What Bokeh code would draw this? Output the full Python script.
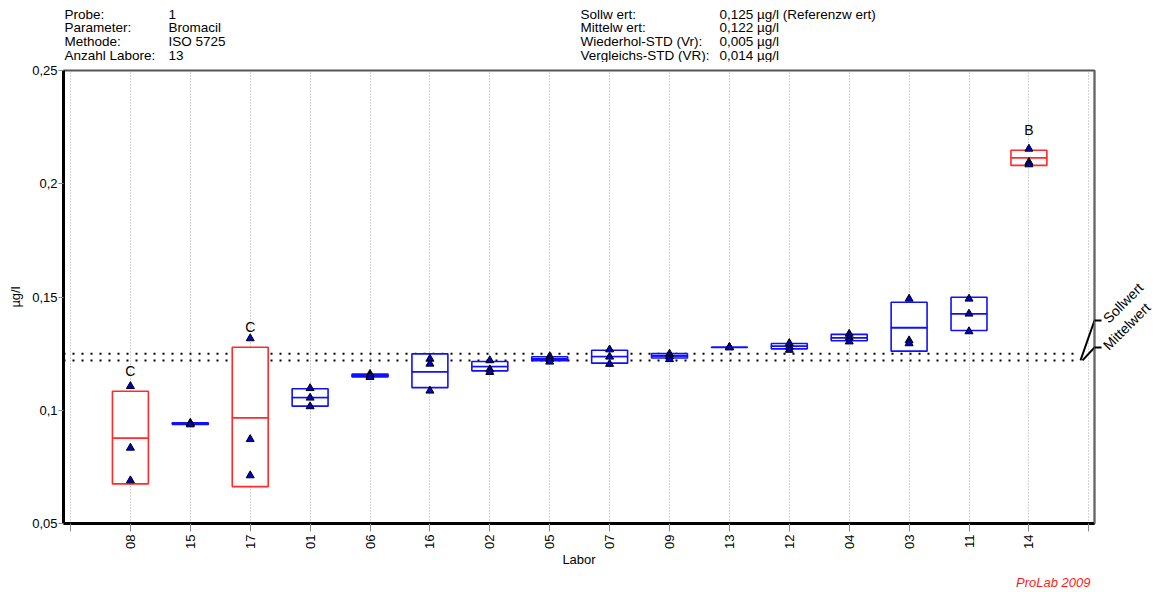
import math
from bokeh.plotting import figure
from bokeh.layouts import column
from bokeh.models import (Range1d, FixedTicker, CustomJSTickFormatter, LinearAxis,
                          ColumnDataSource)
from bokeh.embed import file_html
from bokeh.resources import INLINE
from bokeh.core.properties import value

# ---------------- data ----------------
labs = ["08", "15", "17", "01", "06", "16", "02", "05", "07", "09", "13", "12", "04", "03", "11", "14"]
meas_1 = [0.1106, 0.0944, 0.1317, 0.1097, 0.1160, 0.1227, 0.1220, 0.1238, 0.1268, 0.1249, 0.1278, 0.1296, 0.1337, 0.1492, 0.1492, 0.2154]
meas_2 = [0.0834, 0.0941, 0.0872, 0.1055, 0.1152, 0.1205, 0.1180, 0.1226, 0.1236, 0.1237, 0.1278, 0.1280, 0.1320, 0.1308, 0.1426, 0.2095]
meas_3 = [0.0690, 0.0937, 0.0712, 0.1017, 0.1146, 0.1086, 0.1168, 0.1214, 0.1204, 0.1225, 0.1277, 0.1266, 0.1303, 0.1295, 0.1348, 0.2085]
box_low = [0.0675, 0.0937, 0.0663, 0.1018, 0.1147, 0.1100, 0.1174, 0.1219, 0.1208, 0.1231, 0.1277, 0.1271, 0.1307, 0.1261, 0.1352, 0.2081]
box_mid = [0.0877, 0.0941, 0.0967, 0.1056, 0.1153, 0.1170, 0.1193, 0.1227, 0.1237, 0.1240, 0.1278, 0.1283, 0.1320, 0.1365, 0.1426, 0.2115]
box_high = [0.1084, 0.0945, 0.1278, 0.1095, 0.1160, 0.1249, 0.1215, 0.1236, 0.1265, 0.1250, 0.1278, 0.1295, 0.1335, 0.1477, 0.1499, 0.2148]
rating = ["C", "", "C", "", "", "", "", "", "", "", "", "", "", "", "", "B"]
sollwert = 0.125
mittelwert = 0.122
y_ticks = [0.05, 0.10, 0.15, 0.20, 0.25]
ref_names = ["Sollwert", "Mittelwert"]

header_left_keys = ["Probe:", "Parameter:", "Methode:", "Anzahl Labore:"]
header_left_vals = ["1", "Bromacil", "ISO 5725", "13"]
header_right_keys = ["Sollw ert:", "Mittelw ert:", "Wiederhol-STD (Vr):", "Vergleichs-STD (VR):"]
header_right_vals = ["0,125 µg/l (Referenzw ert)", "0,122 µg/l", "0,005 µg/l", "0,014 µg/l"]
footer_text = "ProLab 2009"

# ---------------- layout helpers ----------------
FONT = "Liberation Sans"
FS = "13px"
FS_HDR = "13.5px"
W, H = 1164, 592
HEADER_H, FOOTER_H = 62, 20
X0, X1 = -0.117, 17.095
Y0, Y1 = 0.05, 0.25
FL, FR, FT, FB = 63, 1094, 70, 523   # frame edges in page pixels


def dx(px):
    return X0 + (px - FL) / (FR - FL) * (X1 - X0)


def dy(py):
    return Y0 + (FB - py) / (FB - FT) * (Y1 - Y0)


xs = list(range(1, len(labs) + 1))
colors = ["#ff2a2a" if r else "#1010ff" for r in rating]
src = ColumnDataSource(dict(x=xs, lo=box_low, mid=box_mid, hi=box_high, col=colors, rating=rating))


def blank_fig(h):
    # frame aligned with the main plot's frame; x in page pixels, y in pixels from top
    f = figure(width=W, height=h, x_range=Range1d(FL, FR), y_range=Range1d(h, 0),
               x_axis_location=None, y_axis_location=None, output_backend="svg",
               toolbar_location=None, min_border_left=FL, min_border_right=W - FR,
               min_border_top=0, min_border_bottom=0)
    f.outline_line_color = None
    f.grid.visible = False
    f.background_fill_color = "white"
    f.border_fill_color = "white"
    return f


# ---------------- header ----------------
hdr = blank_fig(HEADER_H)
for i in range(4):
    yy = 13.5 + i * 13.8
    hdr.text(x=[64, 168, 580, 719], y=[yy] * 4,
             text=[header_left_keys[i], header_left_vals[i], header_right_keys[i], header_right_vals[i]],
             text_align="left", text_baseline="middle", text_font=value(FONT),
             text_font_size=FS_HDR, text_color="black")

# ---------------- main plot ----------------
main_h = H - HEADER_H - FOOTER_H
top_border = FT - HEADER_H
p = figure(width=W, height=main_h, x_range=Range1d(X0, X1), y_range=Range1d(Y0, Y1),
           output_backend="svg", toolbar_location=None,
           min_border_left=FL, min_border_right=W - FR, min_border_top=top_border,
           min_border_bottom=main_h - top_border - (FB - FT))
p.background_fill_color = "white"
p.border_fill_color = "white"
p.outline_line_color = "#555555"
p.outline_line_width = 2

xticker = FixedTicker(ticks=list(range(0, len(labs) + 2)))
p.xaxis.ticker = xticker
p.xaxis.formatter = CustomJSTickFormatter(args=dict(labels=labs), code="""
const i = Math.round(tick) - 1;
return (i >= 0 && i < labels.length) ? labels[i] : '';
""")
p.xaxis.major_label_orientation = math.pi / 2
p.xaxis.axis_label = "Labor"
p.xaxis.axis_line_width = 3
p.xaxis.axis_line_color = "black"
p.xaxis.major_tick_line_color = "#888888"
p.xaxis.major_tick_out = 8
p.xaxis.major_tick_in = 0
p.xaxis.minor_tick_line_color = None
p.xaxis.major_label_standoff = 3
p.xaxis.axis_label_standoff = 0

p.yaxis.ticker = FixedTicker(ticks=y_ticks)
p.yaxis.formatter = CustomJSTickFormatter(code="""
return (Math.round(tick * 100) / 100).toString().replace('.', ',');
""")
p.yaxis.axis_label = "µg/l"
p.yaxis.axis_line_width = 3
p.yaxis.axis_line_color = "black"
p.yaxis.major_tick_line_color = "#888888"
p.yaxis.major_tick_out = 5
p.yaxis.major_tick_in = 0
p.yaxis.minor_tick_line_color = None
p.yaxis.major_label_standoff = 1
p.yaxis.axis_label_standoff = 6

# right axis carrying the Sollwert / Mittelwert markers
rax = LinearAxis(ticker=FixedTicker(ticks=[dy(320), dy(347)]),
                 formatter=CustomJSTickFormatter(args=dict(t=[dy(320), dy(347)], names=ref_names), code="""
let b = 0;
for (let i = 0; i < t.length; i++) { if (Math.abs(t[i] - tick) < Math.abs(t[b] - tick)) b = i; }
return names[b];
"""))
rax.major_label_orientation = math.pi / 4
rax.axis_line_color = "#666666"
rax.axis_line_width = 1.5
rax.major_tick_line_color = "black"
rax.major_tick_line_width = 2
rax.major_tick_out = 7
rax.major_tick_in = 0
rax.minor_tick_line_color = None
rax.major_label_standoff = 4
p.add_layout(rax, "right")

for ax in (p.xaxis[0], p.yaxis[0], rax):
    ax.major_label_text_font = FONT
    ax.major_label_text_font_size = FS
    ax.major_label_text_color = "black"
    ax.axis_label_text_font = FONT
    ax.axis_label_text_font_size = FS
    ax.axis_label_text_font_style = "normal"
    ax.axis_label_text_color = "black"
rax.major_label_text_font_size = "14px"

p.xgrid.ticker = xticker
p.xgrid.grid_line_color = "#a8a8a8"
p.xgrid.grid_line_dash = "1 2"
p.xgrid.grid_line_width = 1
p.ygrid.grid_line_color = None

# reference lines (Sollwert / Mittelwert)
p.segment(x0=[X0, X0], x1=[dx(1080), dx(1080)], y0=[sollwert, mittelwert], y1=[sollwert, mittelwert],
          line_color="black", line_width=2, line_dash="2 7")
# slanted leaders towards the right-axis markers
p.segment(x0=[dx(1080), dx(1082)], y0=[mittelwert, mittelwert], x1=[X1, X1], y1=[dy(320), dy(347)],
          line_color="black", line_width=2)

# boxes: lower half and upper half (white fill)
p.vbar(x="x", width=0.6, bottom="lo", top="mid", source=src, fill_color="white",
       line_color="col", line_width=1.6)
p.vbar(x="x", width=0.6, bottom="mid", top="hi", source=src, fill_color="white",
       line_color="col", line_width=1.6)

# individual measurements
for m in (meas_1, meas_2, meas_3):
    p.scatter(x=xs, y=m, marker="triangle", size=8, fill_color="#0000c8",
              line_color="black", line_width=1)

# rating letters
p.text(x="x", y="hi", text="rating", source=src, y_offset=-20, text_align="center",
       text_baseline="middle", text_font=value(FONT), text_font_size="14px", text_color="black")

# ---------------- footer ----------------
ftr = blank_fig(FOOTER_H)
ftr.text(x=[1090], y=[10], text=[footer_text], text_align="right", text_baseline="middle",
         text_font=value(FONT), text_font_size=FS, text_font_style="italic", text_color="#ff1a1a")

layout = column(hdr, p, ftr, spacing=0)
open("out.html", "w").write(file_html(layout, INLINE))
